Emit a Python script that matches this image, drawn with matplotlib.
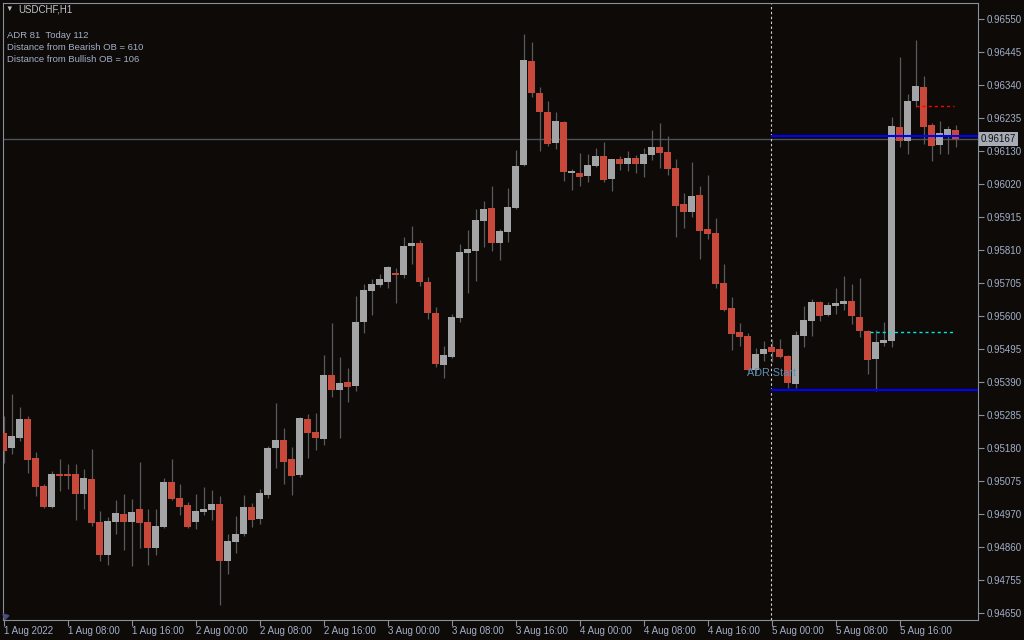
import numpy as np
import matplotlib
matplotlib.use("Agg")
from matplotlib import pyplot as plt
from matplotlib import transforms

# H1 candles, 1 Aug 2022 00:00 .. 5 Aug 2022 23:00 (prices in 1e-5)
opens = [95227, 95179, 95211, 95271, 95146, 95057, 94990, 95095, 95095, 95095,
         95032, 95079, 94941, 94837, 94942, 94967, 94942, 94983, 94941, 94859,
         94925, 95069, 95018, 94996, 94941, 94973, 94980, 94999, 94817, 94877,
         94903, 94989, 94951, 95028, 95178, 95204, 95143, 95092, 95271, 95229,
         95207, 95412, 95364, 95389, 95377, 95581, 95681, 95700, 95709, 95738,
         95732, 95825, 95834, 95709, 95610, 95444, 95469, 95594, 95802, 95809,
         95905, 95946, 95834, 95869, 95946, 96084, 96417, 96314, 96253, 96154,
         96221, 96058, 96058, 96049, 96081, 96113, 96039, 96103, 96087, 96106,
         96087, 96116, 96141, 96125, 96074, 95959, 95933, 95988, 95879, 95866,
         95706, 95626, 95549, 95537, 95428, 95479, 95501, 95495, 95473, 95383,
         95537, 95585, 95645, 95604, 95633, 95639, 95649, 95597, 95553, 95463,
         95514, 95521, 96205, 96161, 96289, 96333, 96212, 96148, 96180, 96196]
highs = [95281, 95351, 95309, 95281, 95165, 95063, 95105, 95143, 95127, 95127,
         95111, 95175, 94977, 94958, 95012, 95031, 95015, 95133, 94983, 94983,
         95082, 95143, 95063, 95005, 95031, 95053, 95044, 95025, 94903, 94961,
         95028, 95002, 95047, 95185, 95322, 95242, 95181, 95277, 95287, 95290,
         95476, 95578, 95469, 95434, 95665, 95703, 95719, 95735, 95761, 95754,
         95853, 95889, 95844, 95725, 95629, 95505, 95607, 95831, 95876, 95943,
         95969, 96017, 95879, 96010, 96132, 96503, 96477, 96333, 96289, 96253,
         96223, 96071, 96122, 96119, 96138, 96157, 96104, 96113, 96129, 96116,
         96138, 96196, 96218, 96177, 96103, 95994, 96093, 96017, 96052, 95914,
         95767, 95661, 95578, 95546, 95498, 95521, 95527, 95527, 95476, 95553,
         95633, 95655, 95648, 95645, 95690, 95729, 95703, 95722, 95555, 95556,
         95581, 96237, 96429, 96311, 96484, 96369, 96218, 96225, 96209, 96212]
lows = [95130, 95159, 95201, 95099, 95026, 94987, 94987, 95042, 95048, 94949,
        94984, 94930, 94818, 94805, 94904, 94853, 94802, 94859, 94805, 94837,
        94922, 95012, 94964, 94922, 94919, 94964, 94948, 94676, 94775, 94842,
        94897, 94925, 94935, 95018, 95114, 95063, 95028, 95085, 95146, 95172,
        95188, 95341, 95210, 95325, 95361, 95546, 95604, 95693, 95690, 95642,
        95722, 95767, 95697, 95591, 95437, 95402, 95466, 95581, 95674, 95713,
        95821, 95809, 95780, 95837, 95944, 96082, 96301, 96129, 96145, 96135,
        96033, 96004, 96017, 96029, 96077, 96029, 96001, 96068, 96065, 96058,
        96045, 96100, 96074, 96052, 95853, 95882, 95917, 95783, 95847, 95690,
        95617, 95492, 95505, 95425, 95415, 95457, 95453, 95466, 95370, 95370,
        95501, 95537, 95585, 95601, 95607, 95620, 95575, 95533, 95415, 95361,
        95505, 95501, 96141, 96119, 96269, 96151, 96097, 96119, 96119, 96141]
closes = [95169, 95217, 95271, 95141, 95054, 94990, 95095, 95089, 95089, 95032,
          95082, 94939, 94837, 94945, 94970, 94942, 94973, 94939, 94859, 94929,
          95069, 95015, 94989, 94925, 94977, 94983, 94999, 94817, 94881, 94903,
          94989, 94948, 95034, 95178, 95204, 95133, 95089, 95274, 95226, 95210,
          95412, 95364, 95386, 95373, 95581, 95684, 95703, 95719, 95757, 95732,
          95825, 95834, 95709, 95610, 95447, 95476, 95597, 95805, 95815, 95908,
          95943, 95834, 95873, 95949, 96081, 96420, 96314, 96253, 96151, 96225,
          96061, 96065, 96045, 96084, 96113, 96036, 96103, 96087, 96106, 96087,
          96119, 96141, 96122, 96071, 95953, 95933, 95985, 95873, 95863, 95703,
          95620, 95543, 95533, 95428, 95479, 95495, 95485, 95469, 95386, 95540,
          95588, 95645, 95601, 95636, 95642, 95649, 95601, 95553, 95460, 95517,
          95524, 96209, 96161, 96289, 96337, 96205, 96145, 96186, 96199, 96167]

time_labels = ["1 Aug 2022", "1 Aug 08:00", "1 Aug 16:00", "2 Aug 00:00", "2 Aug 08:00",
               "2 Aug 16:00", "3 Aug 00:00", "3 Aug 08:00", "3 Aug 16:00", "4 Aug 00:00",
               "4 Aug 08:00", "4 Aug 16:00", "5 Aug 00:00", "5 Aug 08:00", "5 Aug 16:00"]
price_labels = ["0.96550", "0.96445", "0.96340", "0.96235", "0.96130", "0.96020",
                "0.95915", "0.95810", "0.95705", "0.95600", "0.95495", "0.95390",
                "0.95285", "0.95180", "0.95075", "0.94970", "0.94860", "0.94755", "0.94650"]

bid = 0.96167
adr_high = 0.96177
adr_low = 0.95364
bear_ob = 0.96272
bull_ob = 0.95549
adr_start_idx = 96

info_lines = ["ADR 81  Today 112", "Distance from Bearish OB = 610", "Distance from Bullish OB = 106"]

BG = "#0d0a08"
FG = "#8a8f9b"
TXT = "#a3b0c8"
RED = "#c8483a"
GRAY = "#a3a4a6"
WICK = "#5a5a5a"

plt.rcParams["font.family"] = ["Liberation Sans", "DejaVu Sans"]

o = np.array(opens) / 1e5
h = np.array(highs) / 1e5
l = np.array(lows) / 1e5
c = np.array(closes) / 1e5
x = np.arange(len(o))

fig = plt.figure(figsize=(10.24, 6.4), dpi=100, facecolor=BG)
ax = fig.add_axes([0.00264, 0.03203, 0.95244, 0.96375], facecolor=BG)

up = c > o
colors = np.where(up, GRAY, RED)
body_lo = np.minimum(o, c)
body_h = np.maximum(np.abs(c - o), 0.00003)

ax.vlines(x, l, h, color=WICK, lw=0.9, zorder=2)
ax.bar(x, body_h, bottom=body_lo, width=0.86, color=colors, lw=0, zorder=3)

# bid line
ax.axhline(bid, color="#4e525c", lw=1, zorder=1)

# ADR lines from day start
ax.hlines([adr_high, adr_low], adr_start_idx - 0.05, 125, color="#0000ff", lw=1.5, zorder=4)
ax.axvline(adr_start_idx - 0.05, color="#d0d0d0", lw=0.8, dashes=(2.2, 2.2), zorder=1)
ax.text(adr_start_idx, 0.95418, "ADR Start", color="#5f8fb0", fontsize=7.8,
        ha="center", va="center", zorder=5)

# order block levels
ax.hlines(bear_ob, 114, 118.8, color="#ff0000", lw=1, linestyles=(0, (2.2, 2.2)), zorder=4)
ax.hlines(bull_ob, 108.3, 118.9, color="#00e5e5", lw=1, linestyles=(0, (2.2, 2.2)), zorder=4)

ax.set_xlim(-0.1, 121.81)
ax.set_ylim(0.946294, 0.966031)

# price axis on the right
ytop, ybot = 0.96550, 0.94650
yt = ytop - np.arange(len(price_labels)) * (ytop - ybot) / (len(price_labels) - 1)
ax.yaxis.tick_right()
ax.set_yticks(yt, price_labels)
ax.tick_params(axis="y", colors=FG, labelcolor=TXT, length=4, width=0.8, pad=2, labelsize=7)

ax.set_xticks(np.arange(len(time_labels)) * 8, time_labels, ha="left")
ax.tick_params(axis="x", colors=FG, labelcolor=TXT, length=4, width=0.8, pad=1, labelsize=7)

for s in ax.spines.values():
    s.set_color(FG)
    s.set_linewidth(0.8)

# shift marker in the lower left corner
ax.plot([0.002], [0.006], marker=(3, 0, 45), ms=5, color="#4a4e78", transform=ax.transAxes,
        clip_on=False, zorder=6)

# current price box
trans = transforms.blended_transform_factory(ax.transAxes, ax.transData)
ax.text(1.003, bid, "0.96167", transform=trans, ha="left", va="center", fontsize=7,
        color="#111111", bbox=dict(facecolor="#a8acb6", edgecolor="none", pad=1.2), zorder=6,
        clip_on=False)

# header and info text
fig.text(5 / 1024, 1 - 9.5 / 640, "\u25BC", color="#c0c4cc", fontsize=5.5, va="center")
fig.text(18 / 1024, 1 - 9.5 / 640, "USDCHF,H1", color="#c0c4cc", fontsize=7, va="center")
for i, line in enumerate(info_lines):
    fig.text(7 / 1024, 1 - (35 + 12.5 * i) / 640, line, color=TXT, fontsize=6.8, va="center")

fig.savefig("out.png", dpi=100, facecolor=BG)
